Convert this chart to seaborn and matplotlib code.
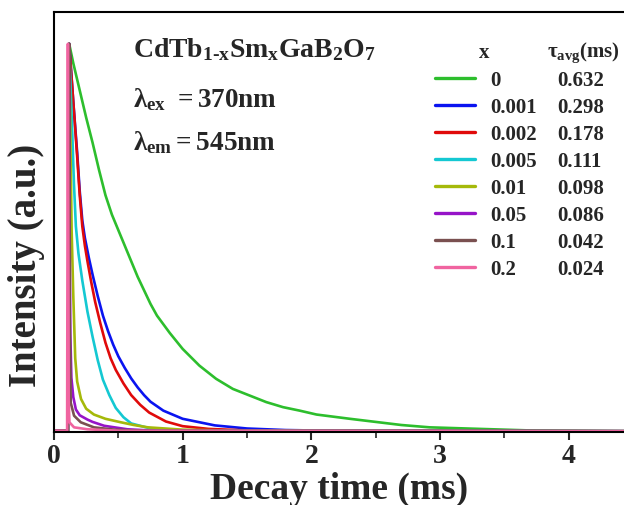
import matplotlib
matplotlib.use("Agg")
import matplotlib.pyplot as plt
import seaborn as sns
import pandas as pd
from matplotlib.lines import Line2D
from matplotlib.ticker import MultipleLocator

sns.set_theme(style="white")
plt.rcParams["font.family"] = ["Liberation Serif", "DejaVu Serif"]
plt.rcParams["font.weight"] = "bold"
plt.rcParams["mathtext.fontset"] = "custom"
plt.rcParams["mathtext.rm"] = "Liberation Serif:bold"
plt.rcParams["mathtext.bf"] = "Liberation Serif:bold"
plt.rcParams["mathtext.it"] = "Liberation Serif:bold"
plt.rcParams["mathtext.default"] = "bf"

# ---- data ----
x_labels = ["0", "0.001", "0.002", "0.005", "0.01", "0.05", "0.1", "0.2"]
tau_labels = ["0.632", "0.298", "0.178", "0.111", "0.098", "0.086", "0.042", "0.024"]
colors = ["#2DBE2D", "#0A14F0", "#E00A0A", "#14C8D2", "#A5B90A", "#9614C8", "#7A5050", "#F064A0"]

t_green = [0, 0.108, 0.118, 0.15, 0.20, 0.25, 0.30, 0.35, 0.40, 0.45, 0.50, 0.55, 0.60, 0.65,
           0.70, 0.75, 0.80, 0.90, 1.00, 1.13, 1.26, 1.39, 1.52, 1.65, 1.78, 1.91, 2.04, 2.30,
           2.55, 2.70, 2.92, 3.31, 3.70, 4.45]
i_green = [0.003, 0.003, 1.0, 0.95, 0.88, 0.81, 0.745, 0.675, 0.61, 0.56, 0.52, 0.48, 0.44, 0.40,
           0.365, 0.33, 0.30, 0.255, 0.214, 0.171, 0.137, 0.111, 0.094, 0.077, 0.064, 0.055, 0.045,
           0.034, 0.024, 0.018, 0.012, 0.008, 0.004, 0.002]

t_blue = [0, 0.108, 0.118, 0.15, 0.18, 0.20, 0.22, 0.24, 0.27, 0.30, 0.34, 0.38, 0.42, 0.46,
          0.50, 0.55, 0.60, 0.65, 0.70, 0.75, 0.85, 1.00, 1.25, 1.50, 1.80, 2.20, 4.45]
i_blue = [0.003, 0.003, 1.0, 0.85, 0.72, 0.62, 0.545, 0.50, 0.45, 0.405, 0.35, 0.30, 0.26, 0.225,
          0.195, 0.165, 0.138, 0.115, 0.095, 0.078, 0.055, 0.034, 0.017, 0.009, 0.005, 0.003, 0.002]

t_red = [0, 0.108, 0.118, 0.15, 0.18, 0.20, 0.22, 0.24, 0.26, 0.29, 0.32, 0.36, 0.40, 0.44,
         0.48, 0.54, 0.60, 0.67, 0.74, 0.87, 1.00, 1.20, 1.50, 4.45]
i_red = [0.003, 0.003, 1.0, 0.85, 0.71, 0.61, 0.53, 0.48, 0.44, 0.385, 0.335, 0.28, 0.23, 0.19,
         0.16, 0.125, 0.095, 0.07, 0.05, 0.027, 0.015, 0.008, 0.004, 0.002]

t_cyan = [0, 0.108, 0.118, 0.13, 0.143, 0.155, 0.17, 0.19, 0.22, 0.26, 0.30, 0.34, 0.38, 0.43,
          0.48, 0.54, 0.60, 0.75, 1.00, 4.45]
i_cyan = [0.003, 0.003, 1.0, 0.88, 0.76, 0.64, 0.53, 0.46, 0.39, 0.31, 0.245, 0.185, 0.135, 0.095,
          0.062, 0.038, 0.022, 0.009, 0.004, 0.002]

t_olive = [0, 0.108, 0.118, 0.137, 0.15, 0.165, 0.18, 0.21, 0.25, 0.31, 0.40, 0.52, 0.62, 0.73,
           1.00, 1.50, 4.45]
i_olive = [0.003, 0.003, 1.0, 0.52, 0.35, 0.19, 0.13, 0.085, 0.06, 0.045, 0.034, 0.025, 0.018,
           0.012, 0.006, 0.003, 0.002]

t_purple = [0, 0.108, 0.118, 0.122, 0.127, 0.135, 0.15, 0.17, 0.20, 0.26, 0.30, 0.39, 0.57, 0.80, 4.45]
i_purple = [0.003, 0.003, 1.0, 0.5, 0.25, 0.14, 0.09, 0.058, 0.043, 0.032, 0.026, 0.016, 0.007, 0.003, 0.002]

t_brown = [0, 0.108, 0.118, 0.122, 0.13, 0.156, 0.208, 0.31, 0.47, 0.70, 4.45]
i_brown = [0.003, 0.003, 1.0, 0.3, 0.075, 0.042, 0.025, 0.012, 0.006, 0.003, 0.002]

t_pink = [0, 0.102, 0.108, 0.114, 0.12, 0.156, 0.26, 0.52, 4.45]
i_pink = [0.003, 0.003, 1.0, 0.08, 0.025, 0.012, 0.007, 0.003, 0.002]

series_t = [t_green, t_blue, t_red, t_cyan, t_olive, t_purple, t_brown, t_pink]
series_i = [i_green, i_blue, i_red, i_cyan, i_olive, i_purple, i_brown, i_pink]

# ---- figure ----
W, H = 624, 506
fig = plt.figure(figsize=(W / 100, H / 100), dpi=100)
ax = fig.add_axes([54 / W, 1 - 433 / H, (W - 54) / W, (433 - 13) / H])

for t, i, c, lab in zip(series_t, series_i, colors, x_labels):
    df = pd.DataFrame({"t": t, "I": i})
    sns.lineplot(data=df, x="t", y="I", ax=ax, color=c, lw=1.9, sort=False,
                 estimator=None, label=lab, legend=False)

ax.set_xlim(0, 4.43)
ax.set_ylim(0, 1.082)
ax.set_yticks([])
ax.xaxis.set_major_locator(MultipleLocator(1))
ax.xaxis.set_minor_locator(MultipleLocator(0.5))
ax.tick_params(axis="x", which="major", direction="out", length=6, width=1.5,
               labelsize=20, pad=2, bottom=True)
ax.tick_params(axis="x", which="minor", direction="out", length=4, width=1.2, bottom=True)
for lbl in ax.get_xticklabels():
    lbl.set_fontweight("bold")
for s in ["left", "top", "bottom"]:
    ax.spines[s].set_visible(True)
    ax.spines[s].set_color("black")
    ax.spines[s].set_linewidth(1.5)
ax.spines["right"].set_visible(False)

ax.set_xlabel("Decay time (ms)", fontsize=27, fontweight="bold", labelpad=2)
ax.set_ylabel("Intensity (a.u.)", fontsize=28, fontweight="bold")
ax.yaxis.set_label_coords(-0.015, 0.40)

# annotations
fig.text(133 / W, 1 - 50 / H, r"$\mathbf{CdTb_{1\text{-}x}Sm_xGaB_2O_7}$", fontsize=20,
         va="center", ha="left")
fig.text(133 / W, 1 - 100 / H, r"$\mathbf{\lambda_{ex}\ = 370nm}$", fontsize=19.5,
         va="center", ha="left")
fig.text(133 / W, 1 - 143 / H, r"$\mathbf{\lambda_{em}= 545nm}$", fontsize=19.5,
         va="center", ha="left")

# legend (two columns: x and tau_avg)
handles = [Line2D([], [], color=c, lw=2.4) for c in colors]
leg1 = fig.legend(handles, x_labels, loc="upper left", bbox_to_anchor=(435 / W, 1 - 71 / H),
                  frameon=False, fontsize=15, handlelength=1.9, handletextpad=0.75,
                  labelspacing=0.335, borderpad=0, borderaxespad=0)
blank = [Line2D([], [], linestyle="none") for _ in tau_labels]
leg2 = fig.legend(blank, tau_labels, loc="upper left", bbox_to_anchor=(557 / W, 1 - 71 / H),
                  frameon=False, fontsize=15, handlelength=0, handletextpad=0,
                  labelspacing=0.335, borderpad=0, borderaxespad=0)
fig.text(484 / W, 1 - 53 / H, "x", fontsize=15, fontweight="bold", ha="center", va="center")
fig.text(583 / W, 1 - 53 / H, r"$\mathbf{\tau_{avg}(ms)}$", fontsize=15, ha="center", va="center")

fig.savefig("out.png", dpi=100)
